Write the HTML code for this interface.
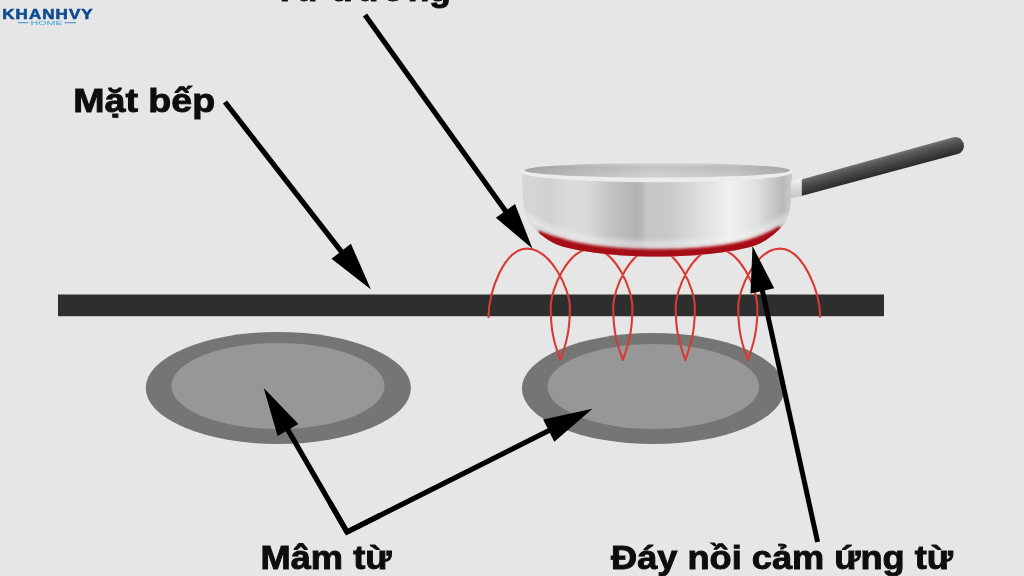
<!DOCTYPE html>
<html><head><meta charset="utf-8"><title>Bep tu</title>
<style>
html,body{margin:0;padding:0;background:#e6e6e6;}
body{width:1024px;height:576px;overflow:hidden;font-family:"Liberation Sans",sans-serif;}
svg{display:block}
text{font-family:"Liberation Sans",sans-serif;font-weight:bold;}
</style></head><body>
<svg width="1024" height="576" viewBox="0 0 1024 576">
<defs>
<linearGradient id="body" x1="0" y1="0" x2="1" y2="0">
<stop offset="0" stop-color="#d6d6d7"/>
<stop offset="0.10" stop-color="#d1d1d2"/>
<stop offset="0.18" stop-color="#dcdcdd"/>
<stop offset="0.25" stop-color="#d8d8d9"/>
<stop offset="0.33" stop-color="#c3c3c5"/>
<stop offset="0.42" stop-color="#b3b3b5"/>
<stop offset="0.44" stop-color="#b5b5b7"/>
<stop offset="0.46" stop-color="#c5c5c7"/>
<stop offset="0.54" stop-color="#c8c8ca"/>
<stop offset="0.66" stop-color="#dededf"/>
<stop offset="0.77" stop-color="#f0f0f0"/>
<stop offset="0.87" stop-color="#e0e0e0"/>
<stop offset="0.965" stop-color="#b9b9bb"/>
<stop offset="1" stop-color="#cccccd"/>
</linearGradient>
<linearGradient id="inner" x1="0" y1="0" x2="1" y2="0">
<stop offset="0" stop-color="#a2a2a3"/>
<stop offset="0.2" stop-color="#b6b6b7"/>
<stop offset="0.5" stop-color="#cdcdce"/>
<stop offset="0.8" stop-color="#c0c0c1"/>
<stop offset="1" stop-color="#a6a6a7"/>
</linearGradient>
<linearGradient id="handle" x1="0" y1="0" x2="0" y2="1">
<stop offset="0" stop-color="#777"/>
<stop offset="0.2" stop-color="#5c5c5c"/>
<stop offset="0.55" stop-color="#444"/>
<stop offset="1" stop-color="#2a2a2a"/>
</linearGradient>
<linearGradient id="conn" x1="0" y1="0" x2="0" y2="1">
<stop offset="0" stop-color="#f2f2f2"/>
<stop offset="1" stop-color="#c4c4c4"/>
</linearGradient>
<clipPath id="panclip"><path d="M522.1 172 C522.4 203 524.4 216 530.4 224 C537.4 233 550.4 243 561.7 246.3 C584.4 253 624.4 256.6 657.2 256.6 C690 256.6 730 253 752.7 246.3 C764 243 777 233 784 224 C790 216 792 203 792.3 172 Z"/></clipPath>
<filter id="blur2" x="-20%" y="-100%" width="140%" height="300%"><feGaussianBlur stdDeviation="2"/></filter>
<filter id="blur1" x="-20%" y="-100%" width="140%" height="300%"><feGaussianBlur stdDeviation="0.9"/></filter>
<linearGradient id="innerv" x1="0" y1="0" x2="0" y2="1">
<stop offset="0" stop-color="#fff" stop-opacity="0.25"/>
<stop offset="0.3" stop-color="#999" stop-opacity="0.15"/>
<stop offset="1" stop-color="#fff" stop-opacity="0.1"/>
</linearGradient>
<filter id="blur3" x="-20%" y="-50%" width="140%" height="200%"><feGaussianBlur stdDeviation="2.5"/></filter>
<filter id="soft"><feGaussianBlur stdDeviation="0.7"/></filter>
</defs>
<rect width="1024" height="576" fill="#e6e6e6"/>
<g filter="url(#soft)">
<!-- logo -->
<text transform="translate(2.2,18.9) scale(1.13,1)" x="0" y="0" font-size="15" fill="#0c4b93" stroke="#0c4b93" stroke-width="0.6" textLength="80" lengthAdjust="spacing">KHANHVY</text>
<text x="30.5" y="24.6" font-size="4.6" fill="#3aa5e0" textLength="32" lengthAdjust="spacingAndGlyphs" style="font-weight:normal">HOME</text>
<rect x="18" y="22.3" width="10.5" height="0.9" fill="#2f7fc4"/>
<rect x="64.5" y="22.3" width="11.5" height="0.9" fill="#2f7fc4"/>

<!-- labels -->
<text x="274" y="1" font-size="33" fill="#111" stroke="#111" stroke-width="0.9" textLength="177" lengthAdjust="spacingAndGlyphs">Từ trường</text>
<text x="73.2" y="112.2" font-size="33" fill="#111" stroke="#111" stroke-width="0.9" textLength="142" lengthAdjust="spacingAndGlyphs">Mặt bếp</text>
<text x="260.5" y="569.3" font-size="32.5" fill="#111" stroke="#111" stroke-width="0.9" textLength="131" lengthAdjust="spacingAndGlyphs">Mâm từ</text>
<text x="611" y="569" font-size="32.5" fill="#111" stroke="#111" stroke-width="0.9" textLength="342" lengthAdjust="spacingAndGlyphs">Đáy nồi cảm ứng từ</text>

<!-- hobs -->
<ellipse cx="278.3" cy="388" rx="132.6" ry="56" fill="#747474"/>
<ellipse cx="278" cy="386" rx="106.5" ry="43" fill="#979797"/>
<ellipse cx="653.2" cy="388.5" rx="131.3" ry="55.5" fill="#747474"/>
<ellipse cx="653.3" cy="386.5" rx="105.8" ry="42.5" fill="#979797"/>

<!-- cooktop -->
<rect x="58" y="294.5" width="826" height="21.7" fill="#2d2d2d"/>

<!-- coil -->
<path d="M488.5 318 C488.5 292 504.0 248.6 527.0 248.6 C550.0 248.6 569.9 288.0 569.9 308.0 C569.9 334.0 564.9 347.0 560.3 360.0 C555.7 347.0 550.7 334.0 550.7 308.0 C550.7 288.0 568.5 248.6 591.5 248.6 C614.5 248.6 632.4 288.0 632.4 308.0 C632.4 334.0 627.4 347.0 622.8 360.0 C618.2 347.0 613.2 334.0 613.2 308.0 C613.2 288.0 631.0 248.6 654.0 248.6 C677.0 248.6 694.9 288.0 694.9 308.0 C694.9 334.0 689.9 347.0 685.3 360.0 C680.7 347.0 675.7 334.0 675.7 308.0 C675.7 288.0 693.5 248.6 716.5 248.6 C739.5 248.6 757.4 288.0 757.4 308.0 C757.4 334.0 752.4 347.0 747.8 360.0 C743.2 347.0 738.2 334.0 738.2 308.0 C738.2 288.0 757.0 248.6 780.0 248.6 C803.0 248.6 820.2 292 820.2 317.5" fill="none" stroke="#d73a33" stroke-width="2.1" stroke-linejoin="round"/>

<!-- pan -->
<g>
<path d="M522.1 172 C522.4 203 524.4 216 530.4 224 C537.4 233 550.4 243 561.7 246.3 C584.4 253 624.4 256.6 657.2 256.6 C690 256.6 730 253 752.7 246.3 C764 243 777 233 784 224 C790 216 792 203 792.3 172 Z" fill="url(#body)"/>
<g clip-path="url(#panclip)">
<path d="M526 216 C545 229 553 231 561.7 234 C585 242 625 245 657.2 245 C690 245 730 242 752.7 234 C761 231 770 229 789 216" fill="none" stroke="#f2f2f2" stroke-width="8" opacity="0.55" filter="url(#blur3)"/>
<path d="M539.5 230.5 C548 234.5 554 236 561.7 238 C585 246 625 249 657.2 249 C690 249 730 246 752.7 238 C762 234.5 771 231.5 778.5 226 L788 232 L760 270 L560 270 L533 238 Z" fill="#d0555a" opacity="0.55" filter="url(#blur2)"/>
<path d="M539.5 230.5 C548 234.5 554 236 561.7 238 C585 246 625 249 657.2 249 C690 249 730 246 752.7 238 C762 234.5 771 231.5 778.5 226 L788 232 L760 270 L560 270 L533 238 Z" fill="#a70b12" filter="url(#blur1)" transform="translate(0,0.6)"/>
</g>
<ellipse cx="657.2" cy="172.3" rx="135.3" ry="10" fill="#ececec"/>
<ellipse cx="657.2" cy="170.3" rx="132.8" ry="7.3" fill="url(#inner)"/>
<ellipse cx="657.2" cy="170.3" rx="132.8" ry="7.3" fill="url(#innerv)"/>
<!-- handle -->
<g transform="translate(802,187.6) rotate(-15.3)"><path d="M-4 -8 L159 -8.6 A8.6 8.6 0 0 1 159 8.6 L-4 8 Z" fill="url(#handle)"/></g>
<path d="M791 181 L801.8 178 L801.8 196 L791 198 Z" fill="url(#conn)"/>
</g>

<!-- arrows -->
<line x1="365.0" y1="15.0" x2="506.6" y2="212.5" stroke="#000" stroke-width="5.2"/><polygon points="532.5,248.7 495.9,217.8 515.0,204.1" fill="#000"/>
<line x1="225.0" y1="102.0" x2="342.4" y2="252.8" stroke="#000" stroke-width="5.2"/><polygon points="371.0,289.5 331.5,258.8 350.9,243.7" fill="#000"/>
<line x1="817.6" y1="542.0" x2="762.0" y2="289.0" stroke="#000" stroke-width="5.0"/><polygon points="752.5,246.0 774.2,288.3 750.5,293.5" fill="#000"/>
<line x1="347.0" y1="532.0" x2="287.0" y2="428.3" stroke="#000" stroke-width="5.2"/><polygon points="263.7,388.0 298.4,424.0 277.6,436.0" fill="#000"/>
<line x1="347.0" y1="532.0" x2="550.5" y2="429.8" stroke="#000" stroke-width="5.2"/><polygon points="592.5,408.7 554.3,441.8 543.1,419.6" fill="#000"/>
<path d="M330 502.6 L347 532 L380 515.4" fill="none" stroke="#000" stroke-width="5.2" stroke-linejoin="miter" stroke-miterlimit="10"/>
</g>
</svg>
</body></html>
